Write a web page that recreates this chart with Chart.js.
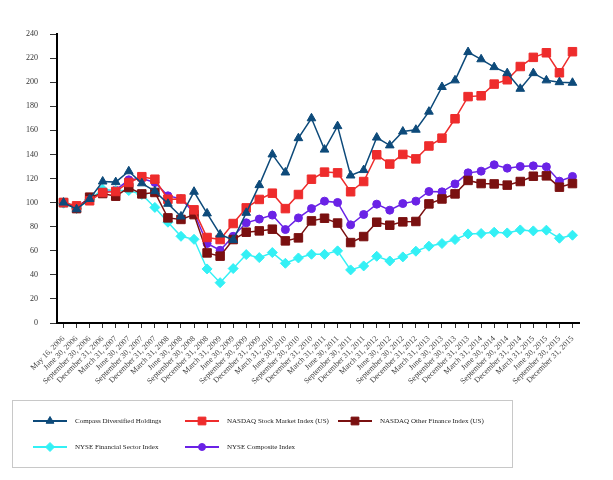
<!DOCTYPE html>
<html>
<head>
<meta charset="utf-8">
<script src="https://cdn.jsdelivr.net/npm/chart.js@4.4.0/dist/chart.umd.min.js"></script>
<style>
  html, body { margin: 0; padding: 0; background: #fff; }
  #wrap { width: 613px; height: 480px; }
</style>
</head>
<body>
<div id="wrap"><canvas id="chart" width="613" height="480"></canvas></div>
<script>
// Quarter-end dates on the x axis
const quarters = [
    'May 16, 2006', 'June 30, 2006', 'September 30, 2006', 'December 31, 2006',
    'March 31, 2007', 'June 30, 2007', 'September 30, 2007', 'December 31, 2007',
    'March 31, 2008', 'June 30, 2008', 'September 30, 2008', 'December 31, 2008',
    'March 31, 2009', 'June 30, 2009', 'September 30, 2009', 'December 31, 2009',
    'March 31, 2010', 'June 30, 2010', 'September 30, 2010', 'December 31, 2010',
    'March 31, 2011', 'June 30, 2011', 'September 30, 2011', 'December 31, 2011',
    'March 31, 2012', 'June 30, 2012', 'September 30, 2012', 'December 31, 2012',
    'March 31, 2013', 'June 30, 2013', 'September 30, 2013', 'December 31, 2013',
    'March 31, 2014', 'June 30, 2014', 'September 30, 2014', 'December 31, 2014',
    'March 31, 2015', 'June 30, 2015', 'September 30, 2015', 'December 31, 2015'
];

const yTicks = [0, 20, 40, 60, 80, 100, 120, 140, 160, 180, 200, 220, 240];

const compass = [100, 94.5, 103, 117.5, 117, 126, 116, 109.5, 99, 88.5,
    109, 91, 73.5, 69, 91.5, 114.5, 140, 125, 153.5, 170,
    144, 163.5, 122.5, 127, 154, 147.5, 159, 160.5, 175.5, 196,
    201.5, 225, 219, 212.5, 207.5, 194.5, 207.5, 201.5, 200, 199.5];

const nasdaqMarket = [100, 97.3, 101.5, 108.4, 109.2, 116.7, 121.5, 119.4, 102.8, 103,
    94, 71, 69.3, 82.6, 95.6, 102.6, 107.8, 95, 106.7, 119.4,
    125.3, 124.7, 109, 117.5, 139.7, 132, 140, 136.3, 147, 153.5,
    169.6, 188, 188.7, 198.4, 202, 213, 220.6, 224.4, 207.8, 225.3];

const nasdaqOtherFin = [100, 95, 104.5, 107.5, 105.3, 112.5, 107.2, 108.4, 87.3, 86,
    90, 58.2, 55.5, 69.3, 75.4, 76.5, 77.9, 68.2, 70.7, 84.8,
    87, 83, 66.8, 71.8, 83.7, 81.2, 84, 84.3, 98.9, 103,
    107.2, 118.4, 115.8, 115.5, 114.5, 117.5, 121.9, 122.2, 112.8, 115.8];

const nyseFinancial = [99.5, 95, 102.5, 111, 110, 110, 106.7, 96, 83.7, 72,
    69.5, 44.9, 33.5, 45.2, 56.8, 54.3, 58.5, 49.6, 54, 57.1,
    57, 59.9, 44.1, 47.4, 55.4, 51.5, 54.9, 59.6, 63.8, 66,
    69.3, 74, 74.3, 75.4, 74.8, 77.3, 76.5, 77.1, 70.4, 72.9];

const nyseComposite = [100, 96.4, 103.4, 108.9, 110.3, 118.9, 120, 116.7, 105.6, 103.1,
    91.5, 66, 60.4, 72, 83.2, 86.3, 89.6, 77.6, 87.3, 95,
    101.2, 100.1, 81.5, 90.1, 98.7, 93.7, 99.2, 101.2, 109.2, 108.9,
    115.5, 124.7, 126.1, 131.4, 128.6, 130, 130.5, 129.7, 117.8, 121.7];

const seriesNames = [
    'Compass Diversified Holdings',
    'NASDAQ Stock Market Index (US)',
    'NASDAQ Other Finance Index (US)',
    'NYSE Financial Sector Index',
    'NYSE Composite Index'
];

const serif = '"Liberation Serif", "Times New Roman", serif';

function makeSet(label, data, color, style, radius) {
    return {
        label: label,
        data: data,
        borderColor: color,
        backgroundColor: color,
        borderWidth: 1.5,
        pointStyle: style,
        pointRadius: radius,
        pointHoverRadius: radius,
        pointBorderWidth: 1,
        tension: 0
    };
}

// Boxed legend under the chart, laid out in columns
const boxLegend = {
    id: 'boxLegend',
    afterDraw(chart) {
        const ctx = chart.ctx;
        ctx.save();
        ctx.strokeStyle = '#c8c8c8';
        ctx.lineWidth = 1;
        ctx.strokeRect(12.5, 400.5, 500, 67);
        const slots = [[33, 421], [185, 421], [338, 421], [33, 447], [185, 447]];
        chart.data.datasets.forEach((ds, i) => {
            const x = slots[i][0], y = slots[i][1];
            ctx.strokeStyle = ds.borderColor;
            ctx.fillStyle = ds.backgroundColor;
            ctx.lineWidth = 2;
            ctx.beginPath();
            ctx.moveTo(x, y);
            ctx.lineTo(x + 34, y);
            ctx.stroke();
            ctx.lineWidth = 1;
            Chart.helpers.drawPoint(ctx, {
                pointStyle: ds.pointStyle,
                radius: ds.pointRadius - 0.5,
                borderWidth: 1,
                rotation: 0
            }, x + 17, y);
            ctx.fillStyle = '#222';
            ctx.font = '7px ' + serif;
            ctx.textBaseline = 'middle';
            ctx.textAlign = 'left';
            ctx.fillText(ds.label, x + 42, y);
        });
        ctx.restore();
    }
};

const ctx = document.getElementById('chart').getContext('2d');
new Chart(ctx, {
    type: 'line',
    data: {
        labels: quarters,
        datasets: [
            makeSet(seriesNames[0], compass, '#0d4a7a', 'triangle', 5),
            makeSet(seriesNames[1], nasdaqMarket, '#ee2c2c', 'rect', 6),
            makeSet(seriesNames[2], nasdaqOtherFin, '#7a1010', 'rect', 6),
            makeSet(seriesNames[3], nyseFinancial, '#33f0f5', 'rectRot', 5),
            makeSet(seriesNames[4], nyseComposite, '#6a22e6', 'circle', 4)
        ]
    },
    options: {
        responsive: false,
        animation: false,
        layout: { padding: { left: 0, top: 34, right: 34, bottom: 92 } },
        plugins: {
            legend: { display: false },
            tooltip: { enabled: false }
        },
        scales: {
            x: {
                offset: true,
                afterFit(scale) { scale.height = 65; },
                grid: {
                    offset: false,
                    drawOnChartArea: false,
                    drawTicks: true,
                    tickLength: 5,
                    color: '#333'
                },
                border: { display: true, color: '#000', width: 2 },
                ticks: {
                    autoSkip: false,
                    maxRotation: 45,
                    minRotation: 45,
                    padding: 6,
                    color: '#444',
                    font: { family: serif, size: 8 }
                }
            },
            y: {
                min: 0,
                max: 240,
                afterFit(scale) { scale.width = 57; },
                afterBuildTicks(scale) { scale.ticks = yTicks.map(v => ({ value: v })); },
                grid: {
                    drawOnChartArea: false,
                    drawTicks: true,
                    tickLength: 7,
                    color: '#333'
                },
                border: { display: true, color: '#000', width: 2 },
                ticks: {
                    padding: 12,
                    color: '#333',
                    font: { family: serif, size: 8 }
                }
            }
        }
    },
    plugins: [boxLegend]
});
</script>
</body>
</html>
